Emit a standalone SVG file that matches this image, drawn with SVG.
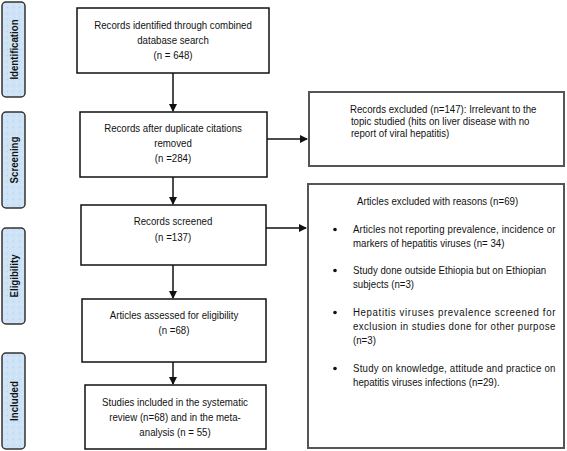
<svg xmlns="http://www.w3.org/2000/svg" width="567" height="451" viewBox="0 0 567 451">
<style>
.t{font-family:"Liberation Sans",Arial,sans-serif;font-size:11px;fill:#111}
.c{text-anchor:middle}
.lab{font-family:"Liberation Sans",Arial,sans-serif;font-size:11px;font-weight:bold;fill:#111;text-anchor:middle}
.box{fill:#fff;stroke:#111;stroke-width:1.5}
.rbox{fill:#fff;stroke:#555;stroke-width:2}
.side{fill:url(#dots);stroke:#333;stroke-width:1.5}
.con{stroke:#111;stroke-width:1.5;fill:none}
</style>
<defs>
<pattern id="dots" width="6" height="6" patternUnits="userSpaceOnUse">
<rect width="6" height="6" fill="#cfe3f6"/>
<circle cx="1.5" cy="1.5" r="0.5" fill="#a9c3dc"/>
<circle cx="4.5" cy="4.5" r="0.5" fill="#e6f0fa"/>
</pattern>
<marker id="ah" markerWidth="8" markerHeight="8" refX="7" refY="4" orient="auto" markerUnits="userSpaceOnUse">
<path d="M0,0 L8,4 L0,8 Z" fill="#111"/>
</marker>
</defs>
<rect width="567" height="451" fill="#fff"/>

<g id="label-identification">
<rect class="side" x="2" y="2" width="23" height="95" rx="4"/>
<text class="lab" transform="translate(18 49.5) rotate(-90) scale(0.88 1)">Identification</text>
</g>
<g id="label-screening">
<rect class="side" x="2" y="112" width="23" height="96" rx="4"/>
<text class="lab" transform="translate(18 160) rotate(-90) scale(0.88 1)">Screening</text>
</g>
<g id="label-eligibility">
<rect class="side" x="2" y="228" width="23" height="96" rx="4"/>
<text class="lab" transform="translate(18 276) rotate(-90) scale(0.88 1)">Eligibility</text>
</g>
<g id="label-included">
<rect class="side" x="2" y="353" width="23" height="96" rx="4"/>
<text class="lab" transform="translate(18 401) rotate(-90) scale(0.88 1)">Included</text>
</g>

<g id="connectors">
<line class="con" x1="173" y1="73" x2="173" y2="111" marker-end="url(#ah)"/>
<line class="con" x1="173" y1="177" x2="173" y2="204" marker-end="url(#ah)"/>
<line class="con" x1="173" y1="265" x2="173" y2="298" marker-end="url(#ah)"/>
<line class="con" x1="173" y1="362" x2="173" y2="384" marker-end="url(#ah)"/>
<line class="con" x1="267" y1="139" x2="307" y2="139" marker-end="url(#ah)"/>
<line class="con" x1="266" y1="228" x2="306" y2="228" marker-end="url(#ah)"/>
</g>

<g id="n1">
<rect class="box" x="77" y="8" width="192" height="65"/>
<text class="t c" transform="translate(173 0) scale(0.88 1)"><tspan x="0" y="29">Records identified through combined</tspan><tspan x="0" y="44">database search</tspan><tspan x="0" y="59">(n = 648)</tspan></text>
</g>
<g id="n2">
<rect class="box" x="80" y="112" width="187" height="65"/>
<text class="t c" transform="translate(173 0) scale(0.88 1)"><tspan x="0" y="132">Records after duplicate citations</tspan><tspan x="0" y="147">removed</tspan><tspan x="0" y="162">(n =284)</tspan></text>
</g>
<g id="n3">
<rect class="box" x="81" y="205" width="185" height="60"/>
<text class="t c" transform="translate(173 0) scale(0.88 1)"><tspan x="0" y="225">Records screened</tspan><tspan x="0" y="241">(n =137)</tspan></text>
</g>
<g id="n4">
<rect class="box" x="82" y="299" width="184" height="63"/>
<text class="t c" transform="translate(174 0) scale(0.88 1)"><tspan x="0" y="319">Articles assessed for eligibility</tspan><tspan x="0" y="334">(n =68)</tspan></text>
</g>
<g id="n5">
<rect class="box" x="85" y="385" width="181" height="64"/>
<text class="t c" transform="translate(175 0) scale(0.88 1)"><tspan x="0" y="406">Studies included in the systematic</tspan><tspan x="0" y="421">review (n=68) and in the meta-</tspan><tspan x="0" y="436">analysis (n = 55)</tspan></text>
</g>

<g id="r1">
<rect class="rbox" x="309" y="92" width="255" height="74"/>
<text class="t" transform="translate(350 0) scale(0.88 1)"><tspan x="0" y="113">Records excluded (n=147): Irrelevant to the</tspan><tspan x="1" y="125">topic studied (hits on liver disease with no</tspan><tspan x="1" y="137">report of viral hepatitis)</tspan></text>
</g>

<g id="r2">
<rect class="rbox" x="308" y="184" width="256" height="264"/>
<text class="t" transform="translate(357 0) scale(0.88 1)"><tspan x="0" y="205">Articles excluded with reasons (n=69)</tspan></text>
<g fill="#111">
<circle cx="335" cy="229.5" r="1.8"/>
<circle cx="335" cy="270.5" r="1.8"/>
<circle cx="335" cy="312.5" r="1.8"/>
<circle cx="335" cy="368.5" r="1.8"/>
</g>
<text class="t" transform="translate(353 0) scale(0.88 1)"><tspan x="0" y="233" textLength="230" lengthAdjust="spacing">Articles not reporting prevalence, incidence or</tspan><tspan x="0" y="247">markers of hepatitis viruses (n= 34)</tspan><tspan x="0" y="274">Study done outside Ethiopia but on Ethiopian</tspan><tspan x="0" y="288">subjects (n=3)</tspan><tspan x="0" y="316" textLength="230" lengthAdjust="spacing">Hepatitis viruses prevalence screened for</tspan><tspan x="0" y="330" textLength="230" lengthAdjust="spacing">exclusion in studies done for other purpose</tspan><tspan x="0" y="344">(n=3)</tspan><tspan x="0" y="372" textLength="230" lengthAdjust="spacing">Study on knowledge, attitude and practice on</tspan><tspan x="0" y="386">hepatitis viruses infections (n=29).</tspan></text>
</g>
</svg>
